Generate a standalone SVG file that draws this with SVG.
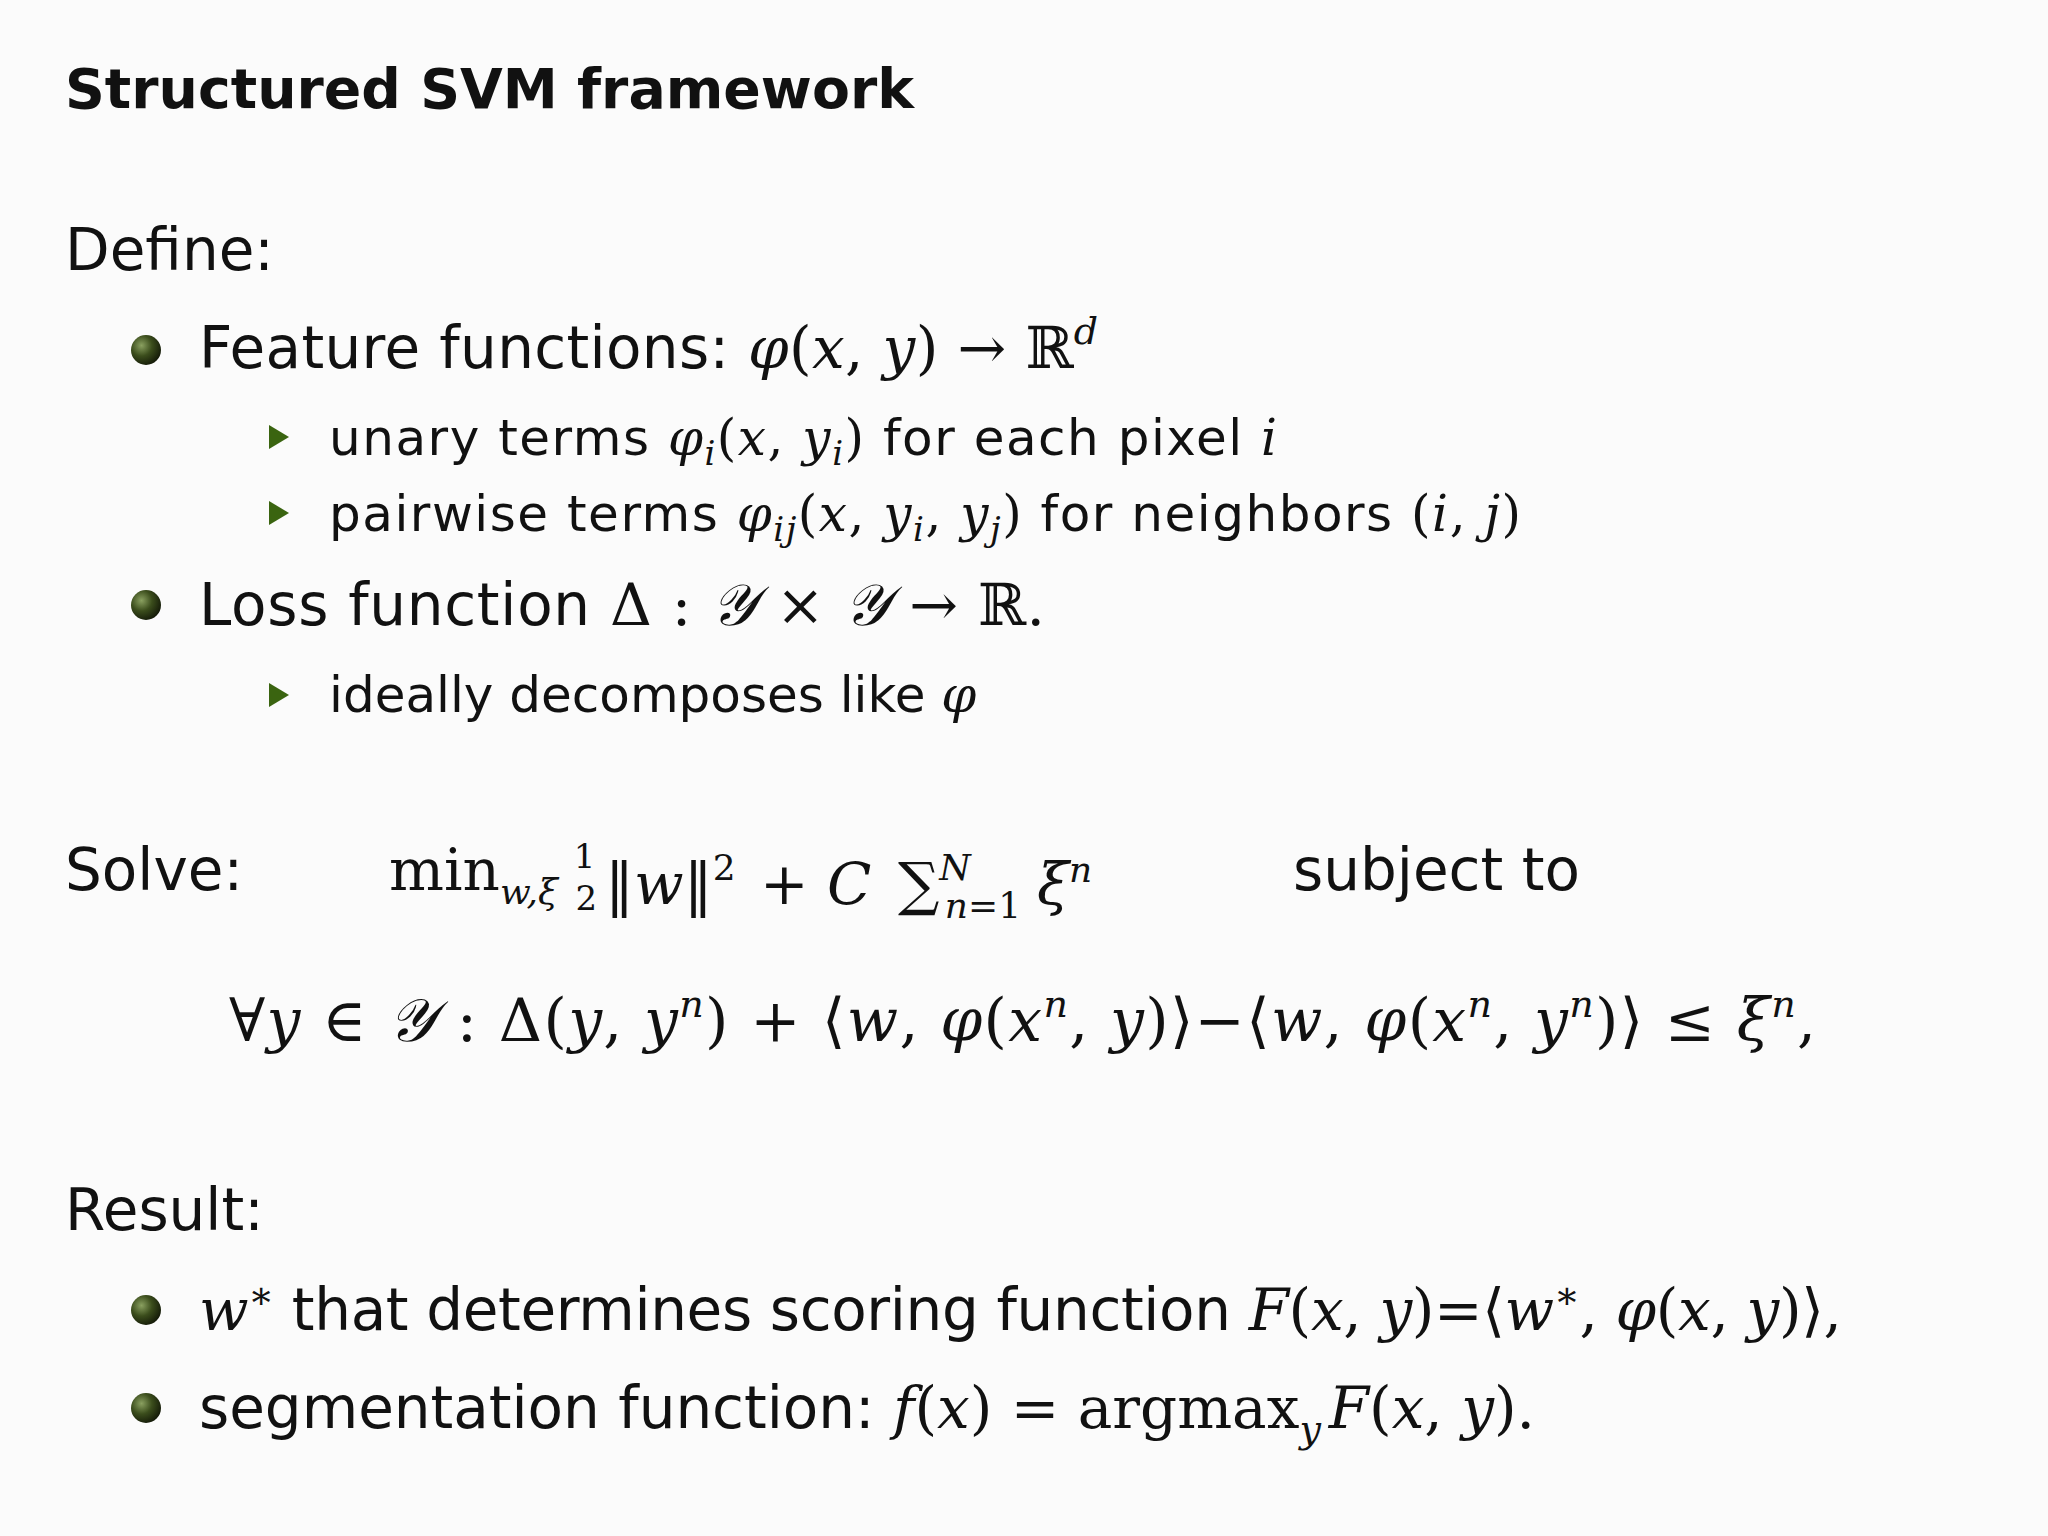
<svg xmlns="http://www.w3.org/2000/svg" width="2048" height="1536" viewBox="0 0 2048 1536">
<defs>
<radialGradient id="ball" cx="0.35" cy="0.35" r="0.7">
<stop offset="0" stop-color="#8aa060"/><stop offset="0.5" stop-color="#3b4d1c"/><stop offset="1" stop-color="#141a08"/>
</radialGradient>
<style>
.s{font-family:"DejaVu Sans","Liberation Sans",sans-serif;fill:#111}
.m{font-family:"DejaVu Serif","Liberation Serif",serif;font-style:italic;fill:#111}
.r{font-style:normal}
.b{font-size:58px}
.sb{font-size:50px}
</style>
</defs>
<rect width="2048" height="1536" fill="#fbfbfb"/>
<text class="s" x="65" y="108" font-size="56" font-weight="bold" textLength="849" lengthAdjust="spacingAndGlyphs">Structured SVM framework</text>
<text class="s b" x="65" y="270">Define:</text>
<g id="b1"><circle cx="146" cy="350" r="15" fill="url(#ball)"/>
<text class="s b" x="199" y="368" textLength="899">Feature functions: <tspan class="m">φ<tspan class="r">(</tspan>x<tspan class="r">, </tspan>y<tspan class="r">) → ℝ</tspan><tspan font-size="38" dy="-24">d</tspan></tspan></text></g>
<g id="s1"><polygon points="269,425 289,437 269,449" fill="#3a6410"/>
<text class="s sb" x="329" y="455" textLength="948">unary terms <tspan class="m">φ<tspan font-size="34" dy="10">i</tspan><tspan class="r" dy="-10">(</tspan>x<tspan class="r">, </tspan>y<tspan font-size="34" dy="10">i</tspan><tspan class="r" dy="-10">)</tspan></tspan> for each pixel <tspan class="m">i</tspan></text></g>
<g id="s2"><polygon points="269,501 289,513 269,525" fill="#3a6410"/>
<text class="s sb" x="329" y="531" textLength="1192">pairwise terms <tspan class="m">φ<tspan font-size="34" dy="10">ij</tspan><tspan class="r" dy="-10">(</tspan>x<tspan class="r">, </tspan>y<tspan font-size="34" dy="10">i</tspan><tspan class="r" dy="-10">, </tspan>y<tspan font-size="34" dy="10">j</tspan><tspan class="r" dy="-10">)</tspan></tspan> for neighbors <tspan class="m"><tspan class="r">(</tspan>i<tspan class="r">, </tspan>j<tspan class="r">)</tspan></tspan></text></g>
<g id="b2"><circle cx="146" cy="605" r="15" fill="url(#ball)"/>
<text class="s b" x="199" y="625" textLength="846">Loss function <tspan class="m"><tspan class="r">Δ : </tspan>𝒴<tspan class="r"> × </tspan>𝒴<tspan class="r"> → ℝ.</tspan></tspan></text></g>
<g id="s3"><polygon points="269,683 289,695 269,707" fill="#3a6410"/>
<text class="s sb" x="329" y="712">ideally decomposes like <tspan class="m">φ</tspan></text></g>
<text class="s b" x="65" y="890">Solve:</text>
<text class="m" x="389" y="890" font-size="58"><tspan class="r">min</tspan><tspan font-size="36" dy="14">w,ξ</tspan><tspan class="r" font-size="34" dx="16" dy="-36">1</tspan><tspan class="r" font-size="34" dx="-20" dy="42">2</tspan><tspan class="r" dx="8" dy="-6">‖</tspan>w<tspan class="r">‖</tspan><tspan class="r" font-size="36" dy="-24">2</tspan><tspan class="r" dx="6" dy="24"> + </tspan>C<tspan class="r" dx="8"> ∑</tspan><tspan font-size="36" dy="-24">N</tspan><tspan font-size="36" dx="-26" dy="38">n<tspan class="r">=1</tspan></tspan><tspan dx="16" dy="-14">ξ</tspan><tspan font-size="36" dy="-22">n</tspan></text>
<text class="s b" x="1293" y="890">subject to</text>
<text class="m" x="229" y="1041" font-size="60" textLength="1587"><tspan class="r">∀</tspan>y<tspan class="r"> ∈ </tspan>𝒴<tspan class="r"> :  Δ(</tspan>y<tspan class="r">, </tspan>y<tspan font-size="38" dy="-24">n</tspan><tspan class="r" dy="24">) + ⟨</tspan>w<tspan class="r">, </tspan>φ<tspan class="r">(</tspan>x<tspan font-size="38" dy="-24">n</tspan><tspan class="r" dy="24">, </tspan>y<tspan class="r">)⟩−⟨</tspan>w<tspan class="r">, </tspan>φ<tspan class="r">(</tspan>x<tspan font-size="38" dy="-24">n</tspan><tspan class="r" dy="24">, </tspan>y<tspan font-size="38" dy="-24">n</tspan><tspan class="r" dy="24">)⟩ ≤ </tspan>ξ<tspan font-size="38" dy="-24">n</tspan><tspan class="r" dy="24">,</tspan></text>
<text class="s b" x="65" y="1230">Result:</text>
<g id="b3"><circle cx="146" cy="1310" r="15" fill="url(#ball)"/>
<text class="s b" x="199" y="1330" textLength="1643"><tspan class="m">w<tspan class="r" font-size="38" dy="-22">∗</tspan></tspan><tspan dy="22"> that determines scoring function </tspan><tspan class="m">F<tspan class="r">(</tspan>x<tspan class="r">, </tspan>y<tspan class="r">)=⟨</tspan>w<tspan class="r" font-size="38" dy="-22">∗</tspan><tspan class="r" dy="22">, </tspan>φ<tspan class="r">(</tspan>x<tspan class="r">, </tspan>y<tspan class="r">)⟩,</tspan></tspan></text></g>
<g id="b4"><circle cx="146" cy="1408" r="15" fill="url(#ball)"/>
<text class="s b" x="199" y="1428" textLength="1336">segmentation function: <tspan class="m">f<tspan class="r">(</tspan>x<tspan class="r">) = argmax</tspan><tspan font-size="38" dy="14">y</tspan><tspan dx="8" dy="-14">F</tspan><tspan class="r">(</tspan>x<tspan class="r">, </tspan>y<tspan class="r">).</tspan></tspan></text></g>
</svg>
